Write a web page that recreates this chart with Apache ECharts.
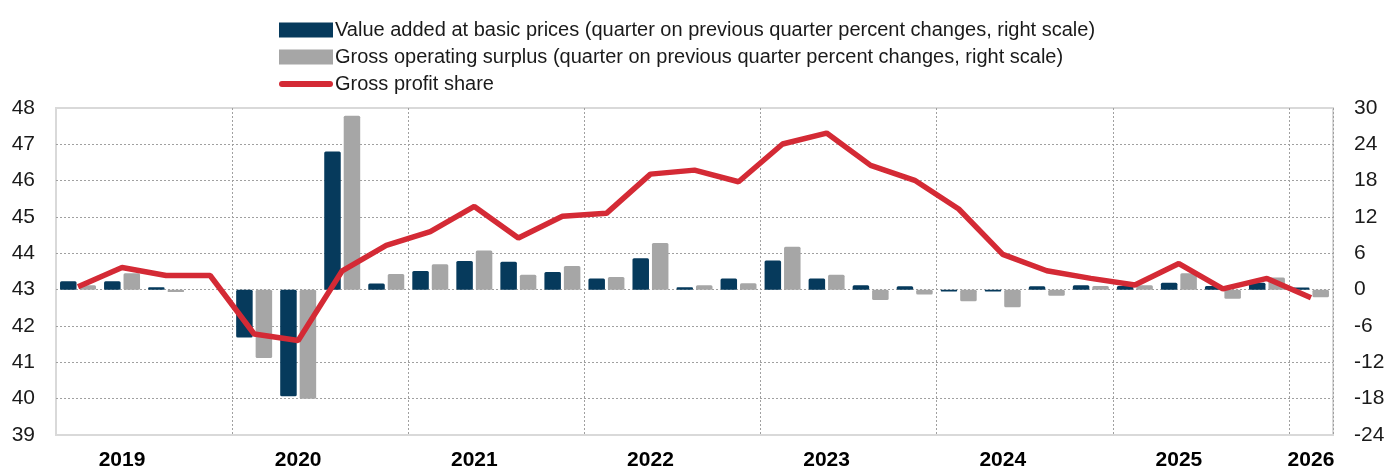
<!DOCTYPE html>
<html>
<head>
<meta charset="utf-8">
<script src="https://cdn.jsdelivr.net/npm/echarts@6/dist/echarts.min.js"></script>
<style>
html,body{margin:0;padding:0;background:#fff;}
#chart{width:1388px;height:471px;}
</style>
</head>
<body>
<div id="chart"></div>
<script>
const categories = [
  '2019Q1','2019Q2','2019Q3','2019Q4',
  '2020Q1','2020Q2','2020Q3','2020Q4',
  '2021Q1','2021Q2','2021Q3','2021Q4',
  '2022Q1','2022Q2','2022Q3','2022Q4',
  '2023Q1','2023Q2','2023Q3','2023Q4',
  '2024Q1','2024Q2','2024Q3','2024Q4',
  '2025Q1','2025Q2','2025Q3','2025Q4',
  '2026Q1'
];
const valueAdded = [1.4, 1.4, 0.4, 0, -7.9, -17.6, 22.8, 1.0, 3.1, 4.75, 4.6, 2.9, 1.85, 5.2, 0.4, 1.85, 4.8, 1.85, 0.75, 0.55, -0.3, -0.3, 0.55, 0.75, 0.6, 1.15, 0.6, 1.15, 0.35];
const grossOperatingSurplus = [0.75, 2.7, -0.4, 0, -11.3, -18.0, 28.7, 2.6, 4.2, 6.45, 2.45, 3.9, 2.1, 7.7, 0.75, 1.05, 7.1, 2.45, -1.7, -0.8, -1.9, -2.9, -1.0, 0.6, 0.75, 2.7, -1.5, 2.0, -1.25];
const grossProfitShare = [43.08, 43.61, 43.39, 43.39, 41.78, 41.6, 43.52, 44.22, 44.6, 45.29, 44.42, 45.02, 45.1, 46.18, 46.29, 45.97, 47.01, 47.31, 46.42, 46.01, 45.22, 43.97, 43.52, 43.31, 43.13, 43.72, 43.02, 43.31, 42.78];
const leftTicks = {min: 39, max: 48, interval: 1};
const rightTicks = {min: -24, max: 30, interval: 6};
const seriesNames = [
  'Value added at basic prices (quarter on previous quarter percent changes, right scale)',
  'Gross operating surplus (quarter on previous quarter percent changes, right scale)',
  'Gross profit share'
];

const FONT = "'Liberation Sans Narrow', 'Arial Narrow', 'Liberation Sans', Arial, sans-serif";
const chart = echarts.init(document.getElementById('chart'), null, {renderer: 'canvas'});
const option = {
  animation: false,
  backgroundColor: '#ffffff',
  textStyle: {fontFamily: FONT},
  legend: {
    orient: 'vertical',
    left: 279,
    top: 20,
    padding: 0,
    itemWidth: 54,
    itemHeight: 15,
    itemGap: 7,
    textStyle: {fontFamily: FONT, fontSize: 20, color: '#1a1a1a', padding: [0,0,0,-3]},
    data: [
      {name: seriesNames[0], icon: 'rect'},
      {name: seriesNames[1], icon: 'rect'},
      {name: seriesNames[2], icon: 'path://M3,0L51,0A3,3,0,0,1,51,6L3,6A3,3,0,0,1,3,0Z'}
    ]
  },
  grid: {
    left: 56, right: 55, top: 108, bottom: 33,
    show: true, borderColor: '#d9d9d9', borderWidth: 2, containLabel: false
  },
  xAxis: {
    type: 'category',
    data: categories,
    boundaryGap: true,
    axisLine: {show: false},
    axisTick: {show: false},
    axisLabel: {
      interval: 0,
      margin: 15,
      fontFamily: FONT,
      fontSize: 21,
      fontWeight: 'bold',
      color: '#000',
      formatter: function (v, i) {
        if ((i % 4 === 1 && i < 28) || i === 28) return v.slice(0, 4);
        return '';
      }
    },
    splitLine: {
      show: true,
      interval: function (i) { return i % 4 === 0 && i > 0; },
      lineStyle: {color: '#a0a0a0', type: [2, 2], width: 1}
    }
  },
  yAxis: [
    {
      type: 'value',
      position: 'left',
      min: leftTicks.min, max: leftTicks.max, interval: leftTicks.interval,
      axisLine: {show: false},
      axisTick: {show: false},
      axisLabel: {margin: 21, fontFamily: FONT, fontSize: 21, color: '#1a1a1a'},
      splitLine: {show: true, showMinLine: false, showMaxLine: false, lineStyle: {color: '#a0a0a0', type: [2, 2], width: 1}}
    },
    {
      type: 'value',
      position: 'right',
      min: rightTicks.min, max: rightTicks.max, interval: rightTicks.interval,
      axisLine: {show: false},
      axisTick: {show: false},
      axisLabel: {margin: 21, fontFamily: FONT, fontSize: 21, color: '#1a1a1a'},
      splitLine: {show: false}
    }
  ],
  series: [
    {
      name: seriesNames[0],
      type: 'bar',
      yAxisIndex: 1,
      data: valueAdded,
      barWidth: 16.5,
      barGap: '18%',
      itemStyle: {color: '#063a5c', borderRadius: 1.5},
      z: 2
    },
    {
      name: seriesNames[1],
      type: 'bar',
      yAxisIndex: 1,
      data: grossOperatingSurplus,
      barWidth: 16.5,
      barGap: '18%',
      itemStyle: {color: '#a6a6a6', borderRadius: 1.5},
      z: 2
    },
    {
      name: seriesNames[2],
      type: 'line',
      yAxisIndex: 0,
      data: grossProfitShare,
      symbol: 'none',
      lineStyle: {color: '#d42a35', width: 5.5},
      itemStyle: {color: '#d42a35'},
      z: 3
    }
  ]
};
chart.setOption(option);
</script>
</body>
</html>
